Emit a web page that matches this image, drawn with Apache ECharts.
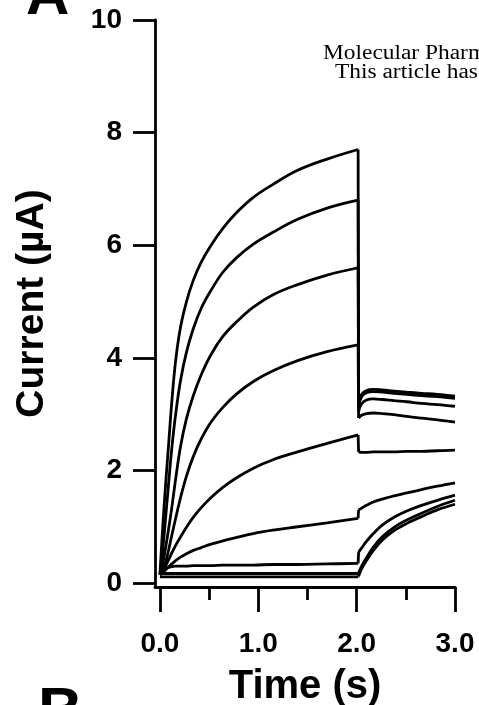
<!DOCTYPE html>
<html>
<head>
<meta charset="utf-8">
<script src="https://cdn.jsdelivr.net/npm/echarts@6/dist/echarts.min.js"></script>
<style>
html,body{margin:0;padding:0;background:#fff;}
#chart{width:479px;height:705px;}
</style>
</head>
<body>
<div id="chart"></div>
<script>
// Time points (s) of the test pulse (up to the step) and of the tail
const pulseTimes = [0, 0.02, 0.04, 0.06, 0.09, 0.12, 0.16, 0.21, 0.27, 0.34, 0.42, 0.52, 0.64, 0.78, 0.95, 1.15, 1.4, 1.7, 2.015];
const tailTimes = [2.02, 2.05, 2.1, 2.17, 2.26, 2.38, 2.51, 2.66, 2.82, 3.0];

// Currents (µA) during the pulse, one array per trace
const pulse1 = [0.15,0.75,1.3,1.8,2.5,3.2,3.95,4.55,5.0,5.38,5.7,6.0,6.3,6.58,6.85,7.08,7.33,7.53,7.7];
const pulse2 = [0.15,0.45,0.8,1.2,1.8,2.38,3.0,3.6,4.1,4.52,4.88,5.2,5.52,5.78,6.02,6.23,6.46,6.66,6.8];
const pulse3 = [0.15,0.28,0.45,0.65,0.98,1.33,1.85,2.43,2.92,3.33,3.7,4.06,4.38,4.64,4.9,5.12,5.3,5.47,5.6];
const pulse4 = [0.15,0.2,0.28,0.38,0.6,0.84,1.15,1.52,1.9,2.25,2.56,2.86,3.12,3.36,3.58,3.77,3.95,4.11,4.23];
const pulse5 = [0.15,0.18,0.24,0.31,0.42,0.53,0.67,0.82,0.99,1.17,1.34,1.52,1.7,1.87,2.04,2.19,2.33,2.48,2.63];
const pulse6 = [0.15,0.17,0.2,0.24,0.29,0.34,0.4,0.46,0.52,0.58,0.63,0.69,0.75,0.81,0.88,0.94,1.0,1.07,1.15];
const pulse7 = [0.15,0.19,0.23,0.26,0.28,0.29,0.3,0.3,0.3,0.31,0.31,0.31,0.32,0.32,0.32,0.33,0.33,0.34,0.35];
const pulse8 = [0.17,0.17,0.17,0.17,0.17,0.17,0.17,0.17,0.17,0.17,0.17,0.17,0.17,0.17,0.17,0.17,0.17,0.17,0.17];
const pulse9 = [0.11,0.11,0.11,0.11,0.11,0.11,0.11,0.11,0.11,0.11,0.11,0.11,0.11,0.11,0.11,0.11,0.11,0.11,0.11];

// Tail currents (µA), one array per trace
const tail1 = [3.18,3.35,3.42,3.44,3.43,3.41,3.39,3.37,3.35,3.32];
const tail2 = [3.14,3.31,3.38,3.40,3.39,3.37,3.35,3.33,3.31,3.28];
const tail3 = [3.05,3.18,3.25,3.27,3.26,3.24,3.22,3.19,3.17,3.14];
const tail4 = [2.93,2.98,3.01,3.02,3.01,2.99,2.96,2.93,2.9,2.86];
const tail5 = [2.33,2.32,2.32,2.33,2.33,2.33,2.34,2.34,2.35,2.36];
const tail6 = [1.3,1.33,1.38,1.44,1.49,1.55,1.6,1.66,1.72,1.78];
const tail7 = [0.55,0.62,0.74,0.88,1.03,1.17,1.28,1.38,1.47,1.56];
const tail8 = [0.18,0.3,0.45,0.64,0.82,0.99,1.12,1.24,1.36,1.47];
const tail9 = [0.12,0.25,0.4,0.58,0.76,0.93,1.06,1.18,1.3,1.40];

const pulses = [pulse1, pulse2, pulse3, pulse4, pulse5, pulse6, pulse7, pulse8, pulse9];
const tails = [tail1, tail2, tail3, tail4, tail5, tail6, tail7, tail8, tail9];

// Axis ticks
const xMajorTicks = [0, 1, 2, 3];
const xMinorTicks = [0.5, 1.5, 2.5];
const yTicks = [0, 2, 4, 6, 8, 10];

const FONT = "'Liberation Sans', Arial, Helvetica, sans-serif";
const SERIF = "'Liberation Serif', 'Times New Roman', serif";
const lineCol = '#000';
const LW = 2.8;

function pairs(ts, vs) { return ts.map(function (t, i) { return [t, vs[i]]; }); }

const series = [];
pulses.forEach(function (p, k) {
  const tl = tails[k];
  const lastT = pulseTimes[pulseTimes.length - 1];
  series.push({
    type: 'line', name: 'pulse' + (k + 1), data: pairs(pulseTimes, p),
    showSymbol: false, symbol: 'none', smooth: 0.4, silent: true,
    lineStyle: { color: lineCol, width: LW }
  });
  series.push({
    type: 'line', name: 'step' + (k + 1),
    data: [[lastT, p[p.length - 1]], [tailTimes[0], tl[0]]],
    showSymbol: false, symbol: 'none', smooth: false, silent: true,
    lineStyle: { color: lineCol, width: LW }
  });
  series.push({
    type: 'line', name: 'tail' + (k + 1), data: pairs(tailTimes, tl),
    showSymbol: false, symbol: 'none', smooth: 0.4, silent: true,
    lineStyle: { color: lineCol, width: LW }
  });
});

const chart = echarts.init(document.getElementById('chart'), null, { renderer: 'canvas' });
chart.setOption({
  animation: false,
  backgroundColor: '#fff',
  grid: { left: 155, right: 24, top: 20, bottom: 118, containLabel: false, outerBoundsMode: 'none' },
  xAxis: [
    {
      type: 'value', min: -0.05, max: 3, position: 'bottom',
      axisLine: { show: true, onZero: false, lineStyle: { color: lineCol, width: 2.8 } },
      axisTick: { show: true, customValues: xMajorTicks, length: 25, lineStyle: { color: lineCol, width: 2.8 } },
      axisLabel: {
        customValues: xMajorTicks, formatter: function (v) { return Number(v).toFixed(1); },
        margin: 43, color: '#000', fontSize: 28, fontWeight: 'bold', fontFamily: FONT
      },
      splitLine: { show: false },
      name: 'Time (s)', nameLocation: 'middle', nameGap: 80,
      nameTextStyle: { color: '#000', fontSize: 40, fontWeight: 'bold', fontFamily: FONT }
    },
    {
      type: 'value', min: -0.05, max: 3, position: 'bottom',
      axisLine: { show: false, onZero: false },
      axisTick: { show: true, customValues: xMinorTicks, length: 13, lineStyle: { color: lineCol, width: 2.8 } },
      axisLabel: { show: false },
      splitLine: { show: false }
    }
  ],
  yAxis: {
    type: 'value', min: -0.07, max: 10,
    axisLine: { show: true, onZero: false, lineStyle: { color: lineCol, width: 2.8 } },
    axisTick: { show: true, customValues: yTicks, length: 22, lineStyle: { color: lineCol, width: 2.8 } },
    axisLabel: {
      customValues: yTicks, margin: 33, color: '#000', fontSize: 28, fontWeight: 'bold', fontFamily: FONT
    },
    splitLine: { show: false },
    name: 'Current (µA)', nameLocation: 'middle', nameGap: 103, nameRotate: 90,
    nameTextStyle: { color: '#000', fontSize: 39, fontWeight: 'bold', fontFamily: FONT }
  },
  graphic: [
    { type: 'text', x: 26, y: -3, silent: true,
      style: { text: 'A', fill: '#000', fontSize: 60, fontWeight: 'bold', fontFamily: FONT, align: 'left', verticalAlign: 'middle' } },
    { type: 'text', x: 38, y: 713, silent: true,
      style: { text: 'B', fill: '#000', fontSize: 62, fontWeight: 'bold', fontFamily: FONT, align: 'left', verticalAlign: 'middle' } },
    { type: 'text', x: 323, y: 54, scaleX: 1.17, silent: true,
      style: { text: 'Molecular Pharmacology Fast Forward.', fill: '#000', fontSize: 20, fontFamily: SERIF, align: 'left', verticalAlign: 'middle' } },
    { type: 'text', x: 335, y: 73, scaleX: 1.17, silent: true,
      style: { text: 'This article has not been copyedited and formatted.', fill: '#000', fontSize: 20, fontFamily: SERIF, align: 'left', verticalAlign: 'middle' } }
  ],
  series: series
});
</script>
</body>
</html>
